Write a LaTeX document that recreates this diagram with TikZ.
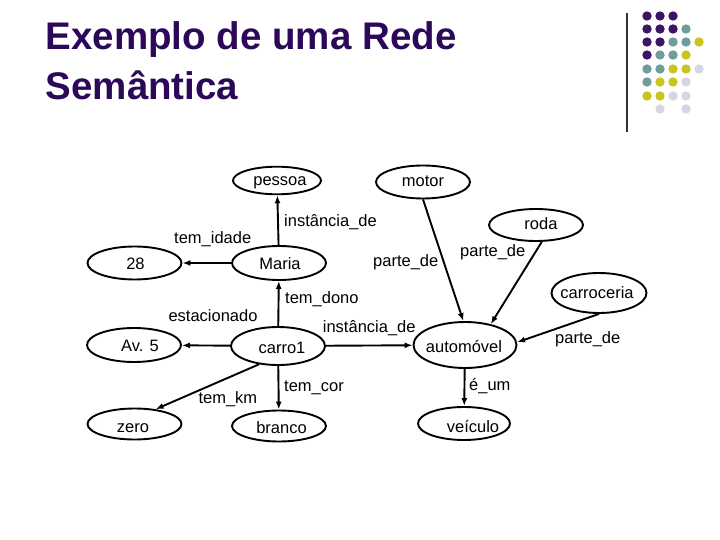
\documentclass[tikz,border=0pt]{standalone}
\usepackage{fontspec}
\setmainfont{Liberation Sans}
\usetikzlibrary{shapes.geometric,arrows.meta}
\definecolor{titlepurple}{RGB}{44,8,88}
\definecolor{dotP}{RGB}{62,20,100}
\definecolor{dotT}{RGB}{112,156,156}
\definecolor{dotY}{RGB}{201,196,30}
\definecolor{dotL}{RGB}{213,213,230}
% #1 = twice the horizontal offset, #2 = how far the baseline sits below the centre
\newcommand\ctx[3]{\makebox[0pt]{\hspace*{#1}\raisebox{-#2}[0pt][0pt]{#3}}}
\tikzset{
  concept/.style={draw, ellipse, line width=1.9pt, inner sep=0pt,
    font=\fontsize{16.5}{18}\selectfont},
  rel/.style={anchor=base west, inner sep=0pt, font=\fontsize{16.5}{18}\selectfont},
  link/.style={line width=1.9pt, -{Latex[length=8pt,width=6pt]}},
}
\begin{document}
\begin{tikzpicture}[x=1pt,y=-1pt]
\useasboundingbox (0,0) rectangle (720,540);
% title
\node[anchor=base west, inner sep=0pt, text=titlepurple,
  font=\fontsize{38.5}{50}\selectfont\bfseries] (t1) at (45.5,49.3) {Exemplo de uma Rede};
\node[anchor=base west, inner sep=0pt, text=titlepurple,
  font=\fontsize{38.5}{50}\selectfont\bfseries] (t2) at (45.5,99.3) {Semântica};
% decoration
\draw[line width=1.3pt, black!80] (627,13) -- (627,132);
\foreach \c/\x/\y in {
  dotP/647/16, dotP/660/16, dotP/673/16,
  dotP/647/29, dotP/660/29, dotP/673/29, dotT/686/29,
  dotP/647/42, dotP/660/42, dotT/673/42, dotT/686/42, dotY/699/42,
  dotP/647/55, dotT/660/55, dotT/673/55, dotY/686/55,
  dotT/647/69, dotT/660/69, dotY/673/69, dotY/686/69, dotL/699/69,
  dotT/647/82, dotY/660/82, dotY/673/82, dotL/686/82,
  dotY/647/96, dotY/660/96, dotL/673/96, dotL/686/96,
  dotL/660/109, dotL/686/109}
  \fill[\c] (\x,\y) circle[radius=4.7];
% concepts
\node[concept, minimum width=88pt, minimum height=27.6pt] (pessoa) at (277,180.5) {\ctx{6pt}{5.5pt}{pessoa}};
\node[concept, minimum width=94pt, minimum height=33pt] (motor) at (423,182) {\ctx{0pt}{5pt}{motor}};
\node[concept, minimum width=94pt, minimum height=32pt] (roda) at (536,225) {\ctx{10pt}{5pt}{roda}};
\node[concept, minimum width=95pt, minimum height=40pt] (carroceria) at (599,293) {\ctx{-4pt}{5.5pt}{carroceria}};
\node[concept, minimum width=94pt, minimum height=33pt] (n28) at (134.5,263) {\ctx{2pt}{6.5pt}{28}};
\node[concept, minimum width=94pt, minimum height=34pt] (maria) at (279,263) {\ctx{2pt}{6.5pt}{Maria}};
\node[concept, minimum width=94pt, minimum height=34pt] (av5) at (134,345) {\ctx{12pt}{6.4pt}{Av. 5}};
\node[concept, minimum width=94pt, minimum height=38pt] (carro1) at (278,346) {\ctx{8pt}{7pt}{carro1}};
\node[concept, minimum width=103pt, minimum height=46pt] (automovel) at (465,345) {\ctx{-2pt}{7pt}{automóvel}};
\node[concept, minimum width=94pt, minimum height=31pt] (zero) at (134.5,424) {\ctx{-3pt}{8pt}{zero}};
\node[concept, minimum width=94pt, minimum height=31pt] (branco) at (279,426) {\ctx{5pt}{7.3pt}{branco}};
\node[concept, minimum width=92pt, minimum height=33pt] (veiculo) at (464,423.5) {\ctx{18pt}{9pt}{veículo}};
% links
\draw[link] (maria) -- (n28);
\draw[link] (maria) -- (pessoa);
\draw[link] (carro1) -- (maria);
\draw[link] (carro1) -- (av5);
\draw[link] (carro1.224) -- (zero.35);
\draw[link] (carro1) -- (branco);
\draw[link] (carro1) -- (automovel);
\draw[link] (motor.south) -- (automovel.94);
\draw[link] (roda.289) -- (automovel.39.5);
\draw[link] (carroceria.south) -- (automovel.3);
\draw[link] (automovel) -- (veiculo);
% relation labels
\node[rel] (l1) at (174,243.3) {tem\_idade};
\node[rel] (l2) at (284,226.7) {instância\_de};
\node[rel] (l3) at (373,266) {parte\_de};
\node[rel] (l4) at (460,256) {parte\_de};
\node[rel] (l5) at (285,303) {tem\_dono};
\node[rel] (l6) at (168.3,321.7) {estacionado};
\node[rel] (l7) at (322.7,332.3) {instância\_de};
\node[rel] (l8) at (555,343.3) {parte\_de};
\node[rel] (l9) at (198.3,403.3) {tem\_km};
\node[rel] (l10) at (284,391.7) {tem\_cor};
\node[rel] (l11) at (469,390.7) {é\_um};
\end{tikzpicture}
\end{document}
